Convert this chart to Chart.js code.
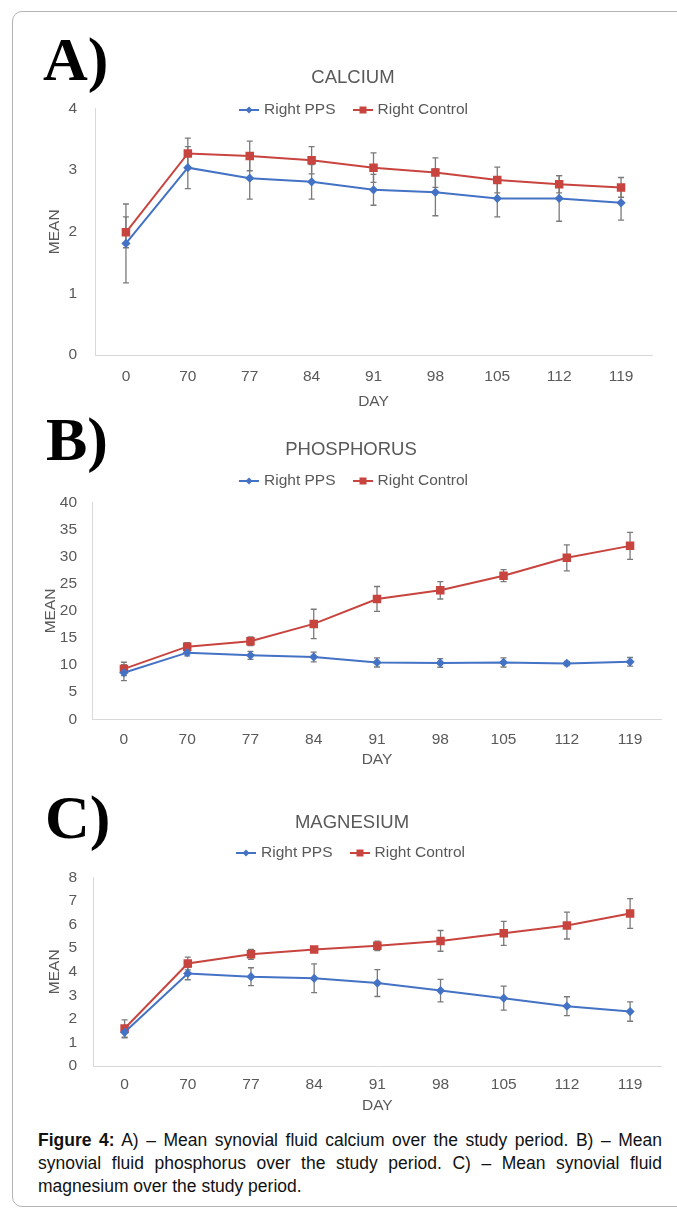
<!DOCTYPE html>
<html lang="en">
<head>
<meta charset="UTF-8">
<title>Figure 4 – synovial fluid minerals</title>
<script src="https://cdn.jsdelivr.net/npm/chart.js"></script>
<style>
  body { margin: 0; width: 677px; height: 1211px; position: relative; overflow: hidden; background: #fff;
         font-family: "Liberation Sans", Arial, sans-serif; }
  .frame { position: absolute; left: 12px; top: 11px; width: 700px; height: 1194px;
           border: 1px solid #b4b4b4; border-radius: 10px; }
  .panel { position: absolute; font-family: "Liberation Serif", "Times New Roman", serif;
           font-weight: bold; font-size: 62px; line-height: 1; color: #000; }
  canvas { position: absolute; }
  .legend { position: absolute; font-size: 15.5px; line-height: 18px; color: #595959; white-space: nowrap; }
  .key { display: inline-block; position: relative; width: 20px; height: 2px; vertical-align: middle; margin-right: 5px; }
  .key i { position: absolute; left: 50%; top: 50%; }
  .key.pps { background: #4472C4; }
  .key.pps i { width: 5px; height: 5px; background: #4472C4; transform: translate(-50%, -50%) rotate(45deg); }
  .key.ctrl { background: #C8443F; margin-left: 17px; }
  .key.ctrl i { width: 7px; height: 7px; background: #C8443F; transform: translate(-50%, -50%); }
  .caption { position: absolute; left: 38px; top: 1129px; width: 624px; font-size: 17.5px; line-height: 23px; color: #111; }
  .caption div { text-align: justify; text-align-last: justify; }
  .caption div.last { text-align-last: left; }
</style>
</head>
<body>
<div class="frame"></div>

<div class="panel" style="left:43px; top:28px">A)</div>
<div class="panel" style="left:46px; top:408px">B)</div>
<div class="panel" style="left:45px; top:786px">C)</div>

<canvas id="calcium"></canvas>
<canvas id="phosphorus"></canvas>
<canvas id="magnesium"></canvas>

<div class="legend" style="left:239px; top:100px"><span class="key pps"><i></i></span>Right PPS<span class="key ctrl"><i></i></span>Right Control</div>
<div class="legend" style="left:239px; top:471px"><span class="key pps"><i></i></span>Right PPS<span class="key ctrl"><i></i></span>Right Control</div>
<div class="legend" style="left:236px; top:843px"><span class="key pps"><i></i></span>Right PPS<span class="key ctrl"><i></i></span>Right Control</div>

<div class="caption">
  <div><b>Figure 4:</b> A) – Mean synovial fluid calcium over the study period. B) – Mean</div>
  <div>synovial fluid phosphorus over the study period. C) – Mean synovial fluid</div>
  <div class="last">magnesium over the study period.</div>
</div>

<script>
  // days of sampling (x axis)
  const days = ['0', '70', '77', '84', '91', '98', '105', '112', '119'];

  // A) calcium
  const caPps      = [1.81, 3.04, 2.87, 2.81, 2.68, 2.64, 2.54, 2.54, 2.47];
  const caPpsErr   = [0.64, 0.34, 0.34, 0.28, 0.25, 0.38, 0.30, 0.37, 0.28];
  const caCtrl     = [1.99, 3.27, 3.23, 3.16, 3.04, 2.96, 2.84, 2.77, 2.72];
  const caCtrlErr  = [0.25, 0.25, 0.24, 0.22, 0.24, 0.24, 0.21, 0.14, 0.16];

  // B) phosphorus
  const pPps       = [8.6, 12.3, 11.8, 11.5, 10.5, 10.4, 10.5, 10.3, 10.6];
  const pPpsErr    = [1.47, 0.6, 0.74, 0.9, 0.85, 0.8, 0.85, 0.4, 0.8];
  const pCtrl      = [9.3, 13.4, 14.4, 17.6, 22.2, 23.8, 26.5, 29.8, 32.0];
  const pCtrlErr   = [1.23, 0.74, 0.8, 2.7, 2.3, 1.6, 1.1, 2.4, 2.5];

  // C) magnesium
  const mgPps      = [1.43, 3.93, 3.79, 3.72, 3.52, 3.20, 2.88, 2.54, 2.31];
  const mgPpsErr   = [0.24, 0.27, 0.38, 0.61, 0.57, 0.48, 0.51, 0.40, 0.41];
  const mgCtrl     = [1.59, 4.35, 4.74, 4.94, 5.10, 5.31, 5.63, 5.96, 6.47];
  const mgCtrlErr  = [0.37, 0.27, 0.21, 0.06, 0.20, 0.44, 0.51, 0.57, 0.63];

  const BLUE = '#4472C4', RED = '#C8443F', INK = '#595959', AXIS = '#d9d9d9';
  const FAMILY = '"Liberation Sans", Arial, sans-serif';
  const TICK = 15.5, HEAD = 18.5;

  // gray error bars, drawn under the markers
  const errorBars = {
    id: 'errorBars',
    beforeDatasetsDraw(chart) {
      const ctx = chart.ctx, y = chart.scales.y;
      chart.data.datasets.forEach((ds, i) => {
        const meta = chart.getDatasetMeta(i);
        ctx.save();
        ctx.strokeStyle = '#7a7a7a';
        ctx.lineWidth = 1.3;
        meta.data.forEach((pt, j) => {
          const top = y.getPixelForValue(ds.data[j] + ds.errors[j]);
          const bot = y.getPixelForValue(ds.data[j] - ds.errors[j]);
          ctx.beginPath();
          ctx.moveTo(pt.x, top); ctx.lineTo(pt.x, bot);
          ctx.moveTo(pt.x - 3, top); ctx.lineTo(pt.x + 3, top);
          ctx.moveTo(pt.x - 3, bot); ctx.lineTo(pt.x + 3, bot);
          ctx.stroke();
        });
        ctx.restore();
      });
    }
  };

  // p = page positions: canvas box, plot area, title / tick / axis-title centres
  function panel(id, p, yMax, yStep, pps, ppsErr, ctrl, ctrlErr) {
    const cv = document.getElementById(id);
    cv.width = p.w; cv.height = p.h;
    cv.style.left = p.x + 'px'; cv.style.top = p.y + 'px';

    const headLine = HEAD * 1.2, tickLine = TICK * 1.2;
    const titleTop = p.titleY - p.y - headLine / 2;
    const titleBottom = (p.top - p.y) - titleTop - headLine;
    const rightGap = p.x + p.w - p.right;

    return new Chart(cv, {
      type: 'line',
      data: {
        labels: days,
        datasets: [
          { label: 'Right PPS', data: pps, errors: ppsErr, borderColor: BLUE, backgroundColor: BLUE,
            borderWidth: 2, pointStyle: 'rectRot', pointRadius: 3.2, tension: 0 },
          { label: 'Right Control', data: ctrl, errors: ctrlErr, borderColor: RED, backgroundColor: RED,
            borderWidth: 2, pointStyle: 'rect', pointRadius: 4.6, tension: 0 }
        ]
      },
      options: {
        responsive: false,
        animation: false,
        layout: { padding: 0 },
        plugins: {
          legend: { display: false },
          tooltip: { enabled: false },
          title: { display: true, text: p.title, color: INK,
                   font: { family: FAMILY, size: HEAD, weight: 'normal' },
                   padding: { top: titleTop, bottom: titleBottom } }
        },
        scales: {
          x: {
            offset: true,
            grid: { display: false, drawTicks: false },
            border: { color: AXIS, width: 1 },
            ticks: { color: INK, font: { family: FAMILY, size: TICK }, padding: p.xLabelY - p.bottom - tickLine / 2,
                     maxRotation: 0, autoSkip: false },
            title: { display: true, text: 'DAY', color: INK, font: { family: FAMILY, size: TICK },
                     padding: { top: 0, bottom: p.y + p.h - p.dayY - tickLine / 2 } },
            afterFit(s) { s.height = p.y + p.h - p.bottom; }
          },
          y: {
            min: 0, max: yMax,
            grid: { display: false, drawTicks: false },
            border: { color: AXIS, width: 1 },
            ticks: { stepSize: yStep, color: INK, font: { family: FAMILY, size: TICK }, padding: p.left - 77 },
            title: { display: true, text: 'MEAN', color: INK, font: { family: FAMILY, size: TICK },
                     padding: { top: p.meanX - p.x - tickLine / 2, bottom: 0 } },
            afterFit(s) { s.width = p.left - p.x; }
          },
          // empty right-hand box: keeps the plot narrow while the title stays centred on the whole canvas
          gap: {
            type: 'linear', position: 'right', axis: 'y',
            grid: { display: false, drawTicks: false },
            border: { display: false },
            ticks: { display: false },
            afterFit(s) { s.width = rightGap; }
          }
        }
      },
      plugins: [errorBars]
    });
  }

  panel('calcium',
    { x: 29, y: 56, w: 648, h: 360, left: 95, top: 108.5, right: 652, bottom: 355,
      title: 'CALCIUM', titleY: 78, xLabelY: 377, dayY: 402, meanX: 55 },
    4, 1, caPps, caPpsErr, caCtrl, caCtrlErr);

  panel('phosphorus',
    { x: 25, y: 428, w: 652, h: 346, left: 92.3, top: 502.5, right: 661.7, bottom: 719.3,
      title: 'PHOSPHORUS', titleY: 450, xLabelY: 740, dayY: 760, meanX: 51 },
    40, 5, pPps, pPpsErr, pCtrl, pCtrlErr);

  panel('magnesium',
    { x: 27, y: 801, w: 650, h: 320, left: 93, top: 877.5, right: 661.7, bottom: 1066,
      title: 'MAGNESIUM', titleY: 823, xLabelY: 1085, dayY: 1106, meanX: 55 },
    8, 1, mgPps, mgPpsErr, mgCtrl, mgCtrlErr);
</script>
</body>
</html>
